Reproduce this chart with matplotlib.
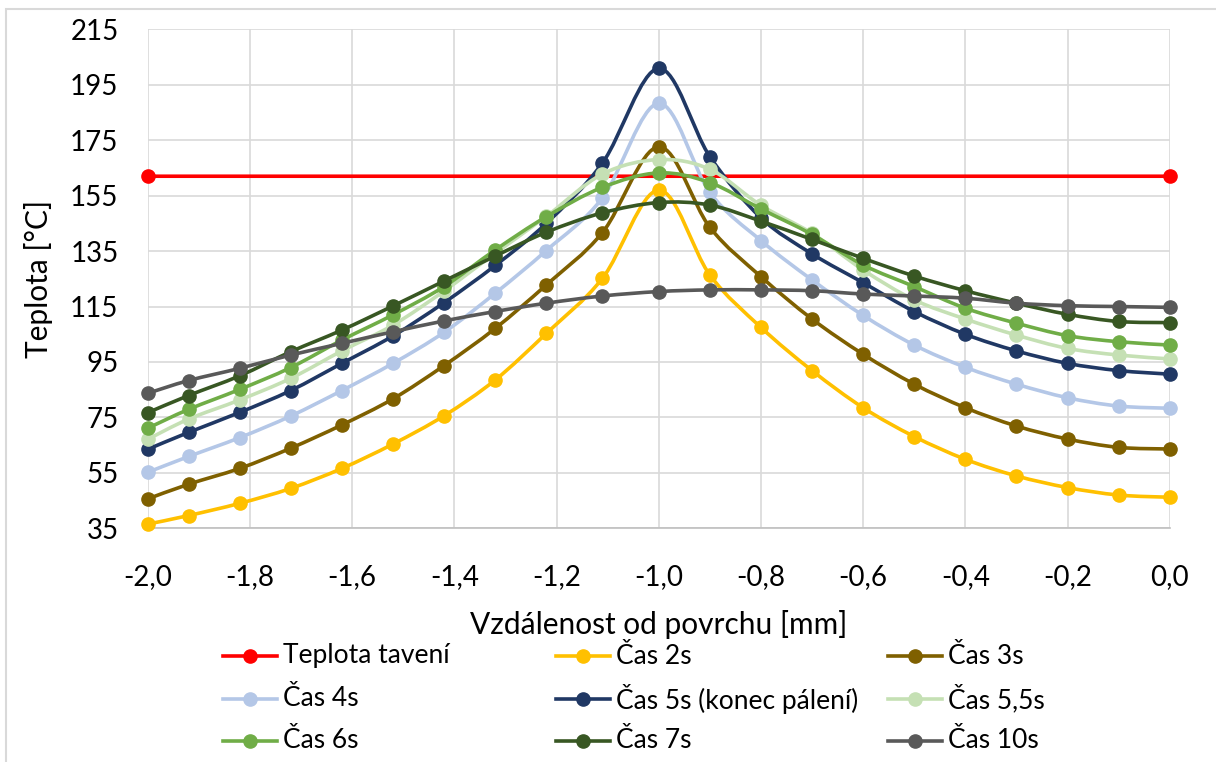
import numpy as np
import matplotlib
matplotlib.use("Agg")
import matplotlib.pyplot as plt
from matplotlib.path import Path
from matplotlib.patches import PathPatch, Rectangle
from matplotlib.lines import Line2D

plt.rcParams["font.family"] = ["Lato", "DejaVu Sans"]

# Distance from the surface [mm]
x_mm = [-2.0, -1.92, -1.82, -1.72, -1.62, -1.52, -1.42, -1.32, -1.22, -1.11,
        -1.0, -0.9, -0.8, -0.7, -0.6, -0.5, -0.4, -0.3, -0.2, -0.1, 0.0]

# Melting temperature (two end points)
melt_x = [-2.0, 0.0]
melt_y = [162, 162]

t_2s = [36.5, 39.6, 44.0, 49.4, 56.6, 65.4, 75.6, 88.5, 105.3, 125.2,
        157.0, 126.4, 107.5, 91.9, 78.5, 68.1, 59.9, 53.9, 49.7, 47.0, 46.2]
t_3s = [45.6, 50.9, 56.6, 63.9, 72.3, 81.7, 93.7, 107.1, 122.8, 141.7,
        172.6, 143.6, 125.8, 110.5, 97.8, 87.0, 78.5, 71.9, 67.2, 64.2, 63.6]
t_4s = [55.2, 60.9, 67.7, 75.5, 84.7, 94.5, 105.7, 119.8, 135.2, 154.2,
        188.3, 156.2, 138.8, 124.6, 111.8, 101.1, 93.1, 87.0, 82.1, 79.1, 78.3]
t_5s = [63.5, 69.6, 76.8, 84.7, 94.5, 104.4, 116.4, 129.8, 145.0, 166.8,
        200.9, 169.1, 147.0, 134.0, 123.6, 113.2, 105.0, 99.0, 94.5, 91.9, 90.6]
t_55s = [67.1, 74.4, 81.3, 89.1, 99.0, 108.3, 120.6, 134.2, 147.5, 162.8,
         168.0, 164.5, 151.5, 141.4, 128.2, 117.4, 110.5, 104.7, 99.9, 97.5, 96.1]
t_6s = [71.1, 77.9, 85.1, 93.0, 102.9, 112.0, 122.2, 135.4, 147.4, 158.0,
        163.2, 159.7, 150.2, 141.0, 130.0, 122.2, 114.4, 109.0, 104.5, 102.3, 101.1]
t_7s = [76.7, 82.9, 90.0, 98.7, 106.5, 115.2, 124.2, 133.2, 141.8, 148.8,
        152.5, 151.6, 145.8, 139.2, 132.4, 126.0, 120.7, 116.2, 112.2, 109.6, 109.2]
t_10s = [83.7, 88.3, 92.7, 97.5, 101.7, 105.9, 109.8, 113.2, 116.2, 118.8,
         120.4, 121.0, 121.0, 120.7, 119.5, 118.8, 118.0, 116.2, 115.3, 115.0, 114.7]

labels = ["Teplota tavení", "Čas 2s", "Čas 3s", "Čas 4s", "Čas 5s (konec pálení)",
          "Čas 5,5s", "Čas 6s", "Čas 7s", "Čas 10s"]
colors = ["#FF0000", "#FFC000", "#7F6000", "#B4C7E7", "#203864",
          "#C5E0B4", "#70AD47", "#385723", "#595959"]

x_ticks = [-2.0, -1.8, -1.6, -1.4, -1.2, -1.0, -0.8, -0.6, -0.4, -0.2, 0.0]
y_ticks = [35, 55, 75, 95, 115, 135, 155, 175, 195, 215]

W, H = 1216, 762
fig = plt.figure(figsize=(W / 100, H / 100), dpi=100)
fig.patch.set_facecolor("white")

# chart frame
fig.patches.append(Rectangle((6 / W, -0.05), 1.2, 1 - 9 / H + 0.05,
                             transform=fig.transFigure, fill=False,
                             edgecolor="#D9D9D9", linewidth=1.5))

left, right, top, bottom = 147.7, 1169.7, 29.3, 528.3
ax = fig.add_axes([left / W, 1 - bottom / H, (right - left) / W, (bottom - top) / H])
ax.set_xlim(-2.0, 0.0)
ax.set_ylim(35, 215)

for s in ["top", "right", "left"]:
    ax.spines[s].set_visible(False)
ax.spines["bottom"].set_color("#BFBFBF")
ax.spines["bottom"].set_linewidth(1.2)

ax.set_xticks(x_ticks)
ax.set_xticklabels([f"{v:.1f}".replace(".", ",") for v in x_ticks])
ax.set_yticks(y_ticks)
ax.set_yticklabels([str(v) for v in y_ticks])
ax.tick_params(axis="both", length=0, labelsize=20, colors="#000000")
ax.tick_params(axis="y", pad=21)
ax.tick_params(axis="x", pad=26)
ax.grid(True, color="#D9D9D9", linewidth=1.2)
ax.set_axisbelow(True)

ax.set_xlabel("Vzdálenost od povrchu [mm]", fontsize=21.5, labelpad=14)
ax.set_ylabel("Teplota [°C]", fontsize=21.5, labelpad=12)


def smooth_path(xs, ys):
    """Bezier path through the points (Excel-style smoothed line)."""
    pts = np.column_stack([xs, ys]).astype(float)
    n = len(pts)
    verts = [pts[0]]
    codes = [Path.MOVETO]
    for i in range(n - 1):
        p0 = pts[i - 1] if i > 0 else pts[i]
        p1 = pts[i]
        p2 = pts[i + 1]
        p3 = pts[i + 2] if i + 2 < n else pts[i + 1]
        c1 = p1 + (p2 - p0) / 6.0
        c2 = p2 - (p3 - p1) / 6.0
        verts += [c1, c2, p2]
        codes += [Path.CURVE4] * 3
    return Path(verts, codes)


series = [(melt_x, melt_y), (x_mm, t_2s), (x_mm, t_3s), (x_mm, t_4s), (x_mm, t_5s),
          (x_mm, t_55s), (x_mm, t_6s), (x_mm, t_7s), (x_mm, t_10s)]

for k, ((xs, ys), c) in enumerate(zip(series, colors)):
    patch = PathPatch(smooth_path(xs, ys), facecolor="none", edgecolor=c,
                      linewidth=2.6, zorder=3 + k, clip_on=False, capstyle="round",
                      joinstyle="round")
    ax.add_patch(patch)
    ax.plot(xs, ys, linestyle="none", marker="o", markersize=9.5, color=c,
            zorder=3 + k, clip_on=False)

# legend, three equal-width columns
col_x = [223, 556, 888]
row_y = [656, 699, 741]
for i, (lab, c) in enumerate(zip(labels, colors)):
    r, cidx = divmod(i, 3)
    x0 = col_x[cidx]
    y0 = 1 - row_y[r] / H
    fig.lines.append(Line2D([x0 / W, (x0 + 54) / W], [y0, y0], transform=fig.transFigure,
                            color=c, linewidth=2.6))
    fig.lines.append(Line2D([(x0 + 27) / W], [y0], transform=fig.transFigure,
                            color=c, marker="o", markersize=9.5, linestyle="none"))
    fig.text((x0 + 60) / W, y0, lab, fontsize=19, va="center", ha="left")

fig.savefig("out.png", dpi=100, facecolor="white")
